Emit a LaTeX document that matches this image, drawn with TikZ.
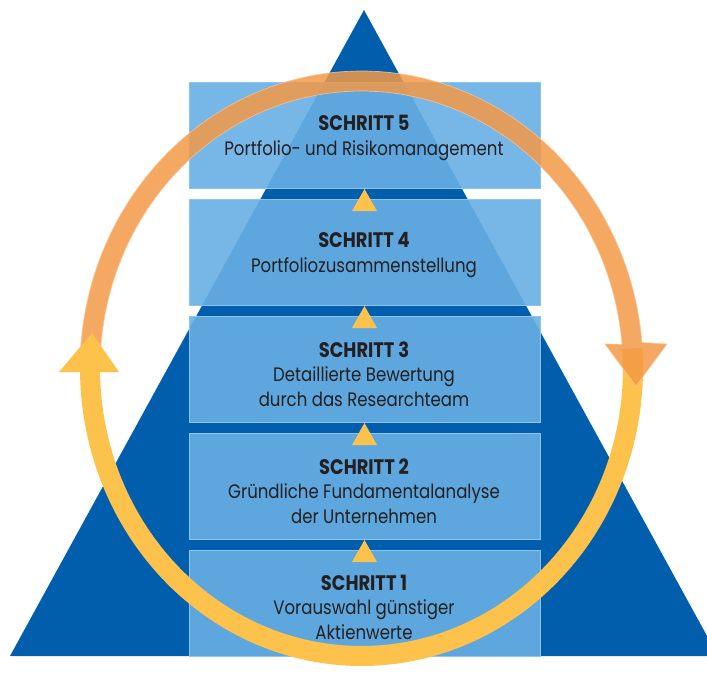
\documentclass[tikz,border=0pt]{standalone}
\usepackage{fontspec}
\setmainfont{Poppins}[FakeStretch=0.85]
\definecolor{tblue}{RGB}{0,94,172}
\definecolor{boxblue}{RGB}{104,175,228}
\definecolor{boxedge}{RGB}{140,196,238}
\definecolor{tyellow}{RGB}{253,194,76}
\definecolor{torange}{RGB}{243,153,70}
\definecolor{oedge}{RGB}{250,196,150}
\definecolor{textc}{RGB}{35,31,32}
\newcommand\hdfont{\fontsize{21}{24.5}\selectfont\bfseries}
\begin{document}
\begin{tikzpicture}[x=1pt,y=-1pt,
  box/.style={fill=boxblue, fill opacity=0.9, draw=boxedge, line width=1.2pt,
    minimum width=351pt, minimum height=106pt, inner sep=0pt, anchor=north west},
  lbl/.style={align=center, text=textc, font=\fontsize{19.5}{24.5}\selectfont, inner sep=0pt},
  updart/.style={fill=tyellow}]
\useasboundingbox (0,0) rectangle (707,673);
\begin{scope}
\clip (0,0) rectangle (707,673);
\fill[tblue] (364,10) -- (718,656) -- (10,656) -- cycle;
\end{scope}
% boxes
\node[box] (b5) at (188.5,81.5) {};
\node[box] (b4) at (188.5,198.5) {};
\node[box] (b3) at (188.5,315.5) {};
\node[box] (b2) at (188.5,432.5) {};
\node[box] (b1) at (188.5,549.5) {};
% yellow band
\fill[tyellow] plot[domain=4:-181, samples=150] ({361.5+281.5*cos(\x)},{368.5-297.5*sin(\x)})
  -- plot[domain=-181:4, samples=150] ({361.5+261.5*cos(\x)},{368.5-277.5*sin(\x)}) -- cycle;
% orange band with head
\filldraw[fill=torange, draw=oedge, line width=0.7pt, opacity=0.85]
  plot[domain=176:5, samples=150] ({361.5+281.5*cos(\x)},{368.5-297.5*sin(\x)})
  -- (667,344) -- (636,386) -- (605,344)
  -- plot[domain=5:176, samples=150] ({361.5+261.5*cos(\x)},{368.5-277.5*sin(\x)}) -- cycle;
% yellow head
\fill[tyellow] (59,372) -- (119,372) -- (92,333) -- cycle;
% small step triangles
\fill[updart] (364.5,189) -- (377,211) -- (352,211) -- cycle;
\fill[updart] (364.5,306) -- (377,328) -- (352,328) -- cycle;
\fill[updart] (364.5,423) -- (377,445) -- (352,445) -- cycle;
\fill[updart] (364.5,540) -- (377,562) -- (352,562) -- cycle;
% labels
\node[lbl] (l5) at (364,138) {{\hdfont SCHRITT 5}\\Portfolio- und Risikomanagement};
\node[lbl] (l4) at (364,255) {{\hdfont SCHRITT 4}\\Portfoliozusammenstellung};
\node[lbl] (l3) at (364,374) {{\hdfont SCHRITT 3}\\Detaillierte Bewertung\\durch das Researchteam};
\node[lbl] (l2) at (364,491) {{\hdfont SCHRITT 2}\\Gründliche Fundamentalanalyse\\der Unternehmen};
\node[lbl] (l1) at (364,607) {{\hdfont SCHRITT 1}\\Vorauswahl günstiger\\Aktienwerte};
\end{tikzpicture}
\end{document}
